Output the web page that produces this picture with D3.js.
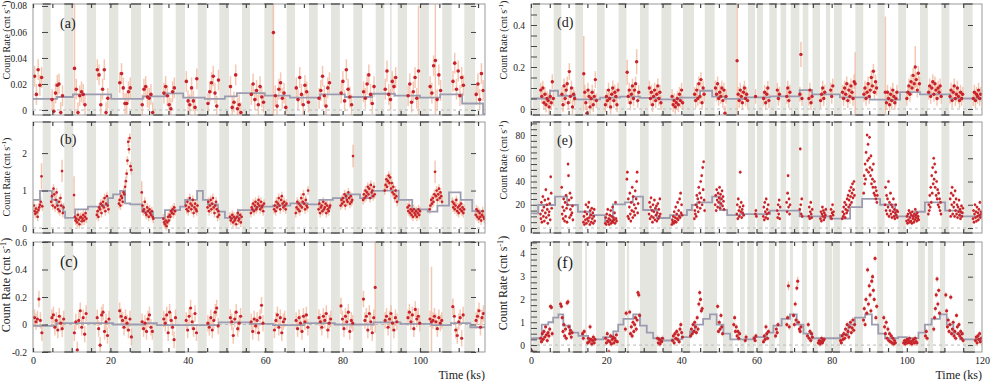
<!DOCTYPE html>
<html>
<head>
<meta charset="utf-8">
<script src="https://cdn.jsdelivr.net/npm/d3@7"></script>
<style>
  body { margin: 0; background: #fff; }
  svg { display: block; }
  text { font-family: 'Liberation Serif', 'Times New Roman', serif; fill: #222; }
</style>
</head>
<body>
<svg id="chart" width="997" height="381"></svg>
<script>
// ---- gaps in coverage (ks) ----
const leftBands = [[2.5,4.57],[8.09,10.41],[13.88,16.28],[19.64,22.04],[25.32,27.91],[31.09,33.51],[36.87,39.28],[42.56,44.88],[48.14,50.65],[54.0,56.07],[59.77,62.09],[65.56,67.7],[71.32,73.57],[77.0,79.3],[82.77,85.09],[88.55,90.78],[92.25,92.69],[94.24,96.64],[100.0,102.3],[105.76,108.19],[111.45,114.21]];
const rightBands = [[0.53,2.39],[6.04,8.06],[11.79,13.84],[17.56,19.61],[23.3,25.4],[29.0,31.3],[34.67,37.33],[40.45,43.37],[46.22,48.88],[51.97,54.63],[57.74,59.6],[60.1,61.7],[63.4,65.4],[66.4,67.9],[69.1,71.4],[72.3,73.8],[74.9,76.9],[78.5,79.6],[80.6,82.7],[86.3,88.4],[92.2,94.1],[97.7,99.8],[103.5,105.6],[109.2,111.3],[115.0,117.5]];
const fBands = [[0.45,2.4],[5.85,7.7],[11.2,13.6],[14.4,14.9],[17.3,19.7],[23.2,25.0],[25.5,26.1],[29.0,33.5],[35.1,37.5],[40.4,42.3],[45.8,49.5],[51.1,53.8],[55.6,56.9],[57.5,59.3],[60.1,61.7],[63.3,64.9],[66.0,67.9],[68.9,69.7],[72.1,73.4],[75.0,76.3],[78.2,80.1],[80.3,82.2],[86.2,88.3],[92.1,93.7],[97.1,99.0],[103.0,104.8],[105.6,107.0],[108.8,110.2],[115.0,118.1]];

// ---- light curves: [segment start (ks), rates]; [rate, error] where error differs ----
const aBin = 0.45;
const aSegs = [
  [0.2, [0.026,0.012,0.031,0.019,0.025]],
  [4.7, [0.008,-0.001,0.013,0.019,0.02,-0.002,0.011]],
  [10.5, [[0.032,0.06],0.016,-0.002,0.011,0.014,0.012,0.004]],
  [16.4, [0.031,0.027,0.004,0.016,0.031,-0.002,0.009]],
  [22.2, [0.021,0.028,0.017,0.005,0.005,0.014,0.017]],
  [28.0, [0.004,0.016,0.018,0.01,0.009,0.012,-0.002]],
  [33.6, [0.013,0.018,0.011,0.004,0.001,0.014,0.017]],
  [39.4, [0.022,0.007,0.004,0.017,0.007,0.002,0.024]],
  [45.0, [0.005,0.014,0.021,0.026,0.013,0.003,0.023]],
  [50.8, [0.018,0.002,0.006,0.027,0.001,0.004,-0.002]],
  [56.2, [0.012,0.02,0.008,0.015,0.004,0.018,0.01,0.006]],
  [61.9, [[0.0595,0.08]]],
  [62.4, [0.011,0.003,0.016,0.021,0.009,0.013,0.002]],
  [67.8, [0.017,0.008,0.025,0.012,0.004,0.019,0.014,0.006]],
  [73.7, [0.009,0.015,0.026,0.011,0.003,0.017,0.021]],
  [79.4, [0.013,0.022,0.007,0.031,0.016,0.01,0.004]],
  [85.2, [0.014,0.009,0.02,0.027,0.012,0.005,0.018]],
  [90.8, [0.016,0.03,0.012,0.008,0.022,0.018,0.025]],
  [96.7, [0.011,0.02,0.006,0.014,0.025,0.009,[0.03,0.05]]],
  [102.4, [0.018,0.013,0.034,[0.038,0.045],0.008,0.027,0.015]],
  [108.3, [0.022,0.036,0.016,0.03,0.011,0.025,0.019]],
  [114.3, [0.012,0.02,0.008,0.028,0.015]]
];
const aStepT = [0,6.2,10.3,20.2,28.4,34.1,38.8,44.4,49.6,52.7,59.9,66.4,74.2,80.6,87.6,93.5,100,105.2,110.9,116.3,116.8];
const aStepV = [0.0085,0.010,0.012,0.0085,0.0105,0.0128,0.0095,0.0085,0.0105,0.013,0.011,0.0095,0.012,0.010,0.0125,0.011,0.0095,0.012,0.005,-0.003];

const bBin = 0.2;
const bSegs = [
  [0.1, [0.6,0.45,0.38,0.52,0.42,0.3,0.48,0.55,0.62,0.7,[1.38,0.35],0.58]],
  [4.6, [0.7,0.85,0.6,1.05,0.9,0.55,0.75,0.95,0.6,0.5,0.7,0.45,0.8,0.6,[1.52,0.3],0.4,0.55]],
  [10.5, [[0.88,0.5],0.3,0.2,0.25,0.15,0.35,0.22,0.1,0.28,0.3,0.18,0.25,0.35,0.2,0.3,0.4,0.25]],
  [16.4, [0.35,0.45,0.3,0.55,0.5,0.65,0.4,0.6,0.7,0.55,0.8,0.45,0.65,0.85,0.6,0.5]],
  [22.1, [0.65,0.75,0.6,0.85,0.8,0.7,0.95,0.9,1.1,1.25,1.45,1.8,2.3,2.1,2.4,1.65,1.55]],
  [28.0, [[0.95,0.3],0.6,0.45,0.5,0.7,0.4,0.35,0.55,0.45,0.3,0.5,0.4,0.35,0.45,0.3,0.25]],
  [33.6, [0.25,0.15,0.1,0.2,0.05,0.15,0.3,0.2,0.35,0.3,0.45,0.4,0.5,0.38,0.55,0.45]],
  [39.4, [0.6,0.5,0.7,0.45,0.55,0.8,0.65,0.5,0.6,0.75,0.4,0.55,0.65,0.5,0.45,0.6]],
  [45.0, [0.55,0.7,0.45,0.6,0.75,0.5,0.65,0.8,0.55,0.4,0.6,0.7,0.5,0.3,0.45,0.35]],
  [50.8, [0.3,0.2,0.25,0.35,0.15,0.3,0.2,0.25,0.1,0.3,0.4,0.2,0.25,0.35,0.15,0.3]],
  [56.2, [0.4,0.55,0.5,0.65,0.45,0.6,0.7,0.5,0.55,0.65,0.75,0.6,0.5,0.7,0.55,0.6,0.45,0.65]],
  [62.2, [0.5,0.6,0.45,0.7,0.55,0.65,0.8,0.6,0.5,0.75,0.85,0.65,0.55,0.7,0.6,0.5,0.65]],
  [67.8, [0.4,0.55,0.7,0.5,0.65,0.45,0.6,0.8,0.55,0.7,0.9,0.65,0.5,0.75,0.6,0.55,1.0]],
  [73.7, [0.5,0.65,0.4,0.55,0.6,0.45,0.7,0.5,0.55,0.65,0.4,0.6,0.5,0.45,0.55,0.6]],
  [79.4, [0.6,0.75,0.65,0.8,0.7,0.9,0.6,0.85,0.75,0.7,0.95,0.8,0.65,0.85,0.7,0.75,[1.92,0.3]]],
  [85.2, [0.75,0.9,0.8,1.0,0.85,0.95,1.1,0.9,1.05,0.8,1.15,0.95,1.0,0.85,1.1,0.9]],
  [90.8, [1.0,1.15,1.3,1.1,1.25,1.4,1.2,1.35,1.05,1.2,0.95,1.1,0.9,0.8,1.0,0.85,0.7]],
  [96.7, [0.55,0.45,0.6,0.4,0.5,0.35,0.45,0.3,0.5,0.4,0.35,0.45,0.3,0.4,0.5,0.35,0.45]],
  [102.4, [0.5,0.6,0.75,0.65,0.8,0.7,0.9,[1.5,0.3],0.85,1.0,0.75,0.9,1.05,0.8,0.95,0.85,0.7]],
  [108.3, [0.7,0.55,0.65,0.5,0.6,0.75,0.45,0.55,0.4,0.6,0.5,0.65,0.45,0.55,0.4,0.5]],
  [114.3, [0.35,0.5,0.3,0.45,0.25,0.4,0.3,0.2,0.35,0.45,0.3,0.25]]
];
const bStepT = [0,1.8,4.9,6.2,7.8,8.3,10.9,14.2,17.3,19.4,20.7,22.5,23.8,25.1,28.2,31.0,34.1,38.0,39.3,42.4,43.9,45.2,47.8,49.6,53.0,57.5,62.0,66.5,71.0,74.0,77.5,81.0,84.5,87.5,90.5,94.5,98.0,102.0,104.5,107.5,110.5,113.5,116.3];
const bStepV = [0.75,0.99,0.75,0.6,0.44,0.27,0.5,0.57,0.61,0.8,0.9,0.99,0.66,0.63,0.44,0.27,0.48,0.57,0.75,0.99,0.75,0.63,0.44,0.27,0.48,0.57,0.6,0.66,0.63,0.75,0.8,0.9,0.8,0.99,1.0,0.75,0.5,0.44,0.6,0.95,0.75,0.45];

const cBin = 0.38;
const cSegs = [
  [0.2, [0.05,0.02,0.04,[0.185,0.06],0.03,-0.06]],
  [4.7, [0.05,0.07,-0.02,0.03,-0.04,0.06,0.01,-0.03,0.04]],
  [10.5, [-0.06,0.02,-0.185,0.03,0.1,-0.02,0.05,-0.07,0.08]],
  [16.4, [0.05,-0.03,-0.15,0.07,0.09,-0.05,0.02,-0.08,0.04]],
  [22.2, [0.1,0.06,0.03,-0.02,0.05,0.01,-0.04,0.04,-0.09]],
  [28.0, [0.02,-0.03,0.01,-0.05,0.04,0.07,-0.02,-0.05]],
  [33.6, [0.04,0.01,0.07,-0.06,0.09,0.03,-0.02,-0.11,0.05]],
  [39.4, [0.03,-0.04,0.06,0.12,0.02,-0.03,0.08,-0.06]],
  [45.0, [0.01,-0.02,0.05,-0.04,0.03,0.09,0.12,-0.01]],
  [50.8, [0.05,0.02,-0.08,0.04,0.09,-0.03,0.01,0.06]],
  [56.2, [0.02,-0.05,0.04,-0.01,0.03,-0.06,0.05,0.14,0.01]],
  [62.2, [-0.04,0.03,0.07,-0.02,0.05,-0.06,0.02,0.04]],
  [67.8, [0.03,-0.03,0.05,0.01,-0.05,0.06,0.02,0.07,-0.02]],
  [73.7, [0.05,0.02,-0.02,0.06,0.03,0.08,-0.04,0.01,0.04]],
  [79.4, [0.135,0.04,-0.03,0.06,0.02,0.09,-0.05,0.03,0.01]],
  [85.2, [0.185,0.03,0.06,-0.04,0.08,0.02,-0.06,0.05,[0.27,0.33]]],
  [90.8, [0.03,0.06,-0.02,0.04,0.08,0.01,-0.04,0.05,0.02]],
  [96.7, [0.05,0.09,0.02,0.07,-0.03,0.11,0.04,0.06,0.01]],
  [102.4, [0.04,[0.02,0.4],0.03,0.06,0.02,-0.03,0.05,0.01,0.03]],
  [108.3, [0.13,0.06,-0.04,-0.08,0.02,0.05,-0.1,0.07]],
  [114.3, [0.03,0.06,0.1,-0.02,0.05,0.08]]
];
const cStepT = [0,6,20.7,29,32,48,56,62,70,78,88,95,103,108,113,116.8];
const cStepV = [-0.01,0.01,0.0,0.01,-0.005,0.015,0.005,-0.005,0.01,0.0,0.015,0.005,-0.005,0.01,-0.02];

const dBin = 0.28;
const dSegs = [
  [2.45, [0.09,0.06,0.1,0.03,0.07,0.02,0.05,0.04,0.01,0.06,0.03,0.13,0.05]],
  [8.1, [0.07,0.02,0.11,0.05,0.09,0.12,0.03,[0.178,0.04],0.06,0.1,0.01,0.07,0.05]],
  [13.9, [[0.168,0.18],0.08,0.03,-0.02,0.09,0.06,0.01,0.05,0.08,0.02,0.06,[0.14,0.04],0.04]],
  [19.65, [0.02,0.06,0.04,0.09,0.05,0.01,0.07,0.1,0.04,0.08,0.06,0.02,0.09]],
  [25.45, [[0.175,0.06],0.06,0.09,0.03,0.07,0.11,0.05,0.09,0.12,[0.225,0.06],0.04,0.08]],
  [31.35, [0.1,0.05,0.08,0.02,0.06,0.09,0.04,0.07,0.11,0.05,0.08,0.03]],
  [37.4, [0.06,0.02,0.04,0.01,0.03,0.05,0.02,0.07,0.04,0.09,0.03]],
  [43.4, [0.07,0.04,0.09,0.05,0.12,0.06,0.14,0.03,0.1,0.07]],
  [48.95, [0.1,0.07,0.12,0.05,0.08,0.06,0.1,0.04,0.09,-0.02,0.06]],
  [54.7, [[0.23,0.3],0.07,0.04,0.09,0.06,0.03,0.08,0.1,0.05,0.07,0.04]],
  [59.6, [0.06]],
  [61.75, [0.05,0.08,0.03,0.07,0.1,0.04]],
  [65.4, [0.09,0.05,0.07]],
  [67.9, [0.06,0.1,0.04,0.08]],
  [71.4, [0.07,[0.26,0.06],0.05]],
  [73.8, [0.05,0.09,0.03,0.06]],
  [76.9, [0.04,0.07,0.1,0.05,0.08]],
  [79.6, [0.09,0.06,0.11]],
  [82.75, [0.08,0.05,0.1,0.07,0.12,0.04,0.09,0.06,0.11,0.08,0.05,0.13,[0.12,0.15]]],
  [88.45, [0.07,0.1,0.05,0.08,0.12,0.06,0.09,0.15,0.11,0.18,0.08,0.13,0.1]],
  [94.15, [[0.08,0.36],0.03,0.08,0.05,0.02,0.07,0.04,0.09,0.06,0.03,0.05,0.08]],
  [99.85, [0.05,0.08,0.11,0.07,0.13,0.1,0.16,0.12,[0.2,0.1],0.14,0.09,0.17,0.12]],
  [105.65, [0.08,0.11,0.06,0.1,0.13,0.07,0.12,0.09,0.05,0.1,0.08,0.11,0.06]],
  [111.35, [0.06,0.09,0.04,0.08,0.11,0.05,0.07,0.1,0.06,0.04,0.08,0.05,0.07]],
  [117.55, [0.05,0.08,0.04,0.07,0.06,0.09,0.05,0.07]]
];
const dStepT = [0,5.1,7.2,11.7,18.4,23.7,29.0,34.3,39.6,45.0,48.2,51.6,56.9,63.6,71.5,74.8,82.2,90.2,98.2,103.5,111.5,120];
const dStepV = [0.05,0.087,0.063,0.046,0.054,0.059,0.053,0.046,0.054,0.087,0.059,0.048,0.055,0.06,0.09,0.07,0.055,0.045,0.08,0.07,0.05];

const eBin = 0.13;
const eSegs = [
  [2.45, [12,8,22,5,15,27,10,18,6,24,13,33,9,20,16,4,25,11,14,21,7,44,30,17]],
  [8.1, [35,12,18,8,25,15,6,22,10,28,17,5,20,55,45,24,9,30,16,11,26,13,19,7]],
  [13.9, [5,10,3,14,7,20,4,12,8,18,6,22,9,3,15,11,5,17,8,13,4,10,16,6]],
  [19.7, [4,9,3,12,6,16,5,8,3,11,7,15,4,10,6,18,5,9,7,13,4,22,8,6]],
  [25.45, [42,48,10,25,8,18,30,12,6,22,15,35,9,27,14,20,11,32,17,25,40,48,13,21]],
  [31.35, [12,22,8,18,26,10,15,5,20,9,14,24,7,17,11,19,6,13,21,8,16,10,25,12]],
  [37.4, [3,7,5,10,4,14,6,9,18,5,12,8,22,7,15,10,25,9,30,13,20,11]],
  [43.4, [8,15,12,20,10,28,18,25,14,35,22,30,17,40,26,45,20,52,33,57,24,15]],
  [48.95, [20,28,15,33,24,18,30,22,26,35,17,29,21,25,32,19,27,23,16]],
  [54.7, [12,20,8,25,15,10,18,48,14,22,9,16,13,19,11]],
  [59.65, [12,15,10]],
  [61.75, [10,18,7,22,14,9,25,12,16,8,20,13]],
  [65.45, [15,9,20,12,24,8,18]],
  [67.95, [22,14,30,45,18,25,12,20]],
  [71.45, [16,68,20,12,25,10]],
  [73.85, [10,18,8,14,22,12,9,16]],
  [76.95, [8,14,6,12,18,10,15,7,13,9,11,16]],
  [79.65, [10,16,8,13,20,11,14]],
  [82.75, [8,14,10,18,12,22,9,16,20,13,25,15,28,18,24,32,20,27,35,22,30,38,26,33,40,28]],
  [88.45, [30,45,38,55,42,65,50,80,58,72,48,60,78,52,45,62,38,50,42,35,55,30,40,28,35,25,32,22,28]],
  [94.15, [20,35,15,28,12,25,18,40,10,22,15,30,12,20,9,18,14,25,10,16,8,13,20,11,15,9,14]],
  [99.85, [6,10,4,12,7,15,5,9,13,6,11,4,14,8,10,5,12,7,16,9,11,6,13,8,10,7]],
  [105.65, [12,20,15,28,18,35,22,45,30,52,38,60,42,55,35,48,28,40,25,33,20,30,18,25,15,22,12]],
  [111.35, [15,25,10,30,20,35,12,28,18,22,10,32,15,25,12,20,9,18,14,24,11,16,8,14,19,10,13,17]],
  [117.55, [8,15,5,12,20,9,14,6,18,10,13,7,16,11,22,9,14,12]]
];
const eStepT = [0,1.9,6.4,9.6,12.5,15.7,19.7,21.8,25.0,27.1,29.8,33.5,37.0,41.5,42.8,44.2,48.2,50.3,52.2,55.6,63.6,71.5,79.5,84.9,88.1,92.9,96.9,102.2,104.8,110.2,114.2,120];
const eStepV = [12.6,19.8,27,19.8,14,11,5.9,20.4,22,27,15.5,8.6,11,15.5,19.8,22,27,15.5,11,12,15,10,8,18,25,20,10,14,22,15,10];

const fBin = 0.22;
const fSegs = [
  [0.05, [[-0.25,0.1]]],
  [2.45, [0.3,0.15,0.5,0.25,0.6,0.35,0.8,0.45,0.2,0.55,0.4,0.7,1.7,1.65,0.5]],
  [7.75, [1.8,1.7,1.2,0.6,0.9,0.4,0.7,0.3,1.85,1.9,0.8,0.5,0.65,0.35,0.55]],
  [13.6, [0.5,0.3,0.6]],
  [14.95, [0.1,0.3,0.15,0.8,0.25,0.05,0.2,0.35,0.1,0.25]],
  [19.75, [0.3,0.1,0.5,0.2,-0.3,0.15,0.4,0.05,0.25,0.35,0.1,0.3,0.2,0.45,0.15]],
  [25.0, [0.7,1.4]],
  [26.15, [1.45,0.5,0.8,0.4,1.0,0.6,0.9,1.2,0.7,1.1,2.3,2.2,1.3]],
  [33.55, [0.3,0.1,0.25,0.05,0.2,0.15,0.3]],
  [37.55, [0.2,0.4,0.1,0.5,0.3,0.6,0.25,0.45,0.15,0.7,0.9,0.55,0.35]],
  [42.35, [0.4,0.7,0.5,0.9,0.6,1.0,0.8,0.55,1.2,0.7,1.8,2.3,2.0,1.5,1.6]],
  [49.55, [1.7,0.6,1.0,0.7,1.3,0.8,0.5]],
  [53.85, [0.9,1.2,0.6,0.8,0.4,0.6,0.3,0.5]],
  [56.9, [0.2,0.35]],
  [59.3, [0.3,0.2,0.4]],
  [61.75, [0.15,0.4,0.25,0.8,0.5,0.3,0.6]],
  [64.95, [0.4,0.7,0.55,0.9]],
  [67.95, [0.9,1.2,[2.6,0.2],0.8]],
  [69.75, [1.3,0.9,1.8,1.1,2.5,[2.8,0.2],1.0,0.7,0.6,0.8]],
  [73.45, [0.4,0.9,0.3,0.6,0.2,0.5,0.35]],
  [76.35, [0.1,0.2,0.05,0.15,0.3,0.1,0.2,0.25]],
  [82.25, [0.2,0.1,0.4,0.25,0.5,0.3,0.7,0.45,0.9,0.6,0.35,0.8,1.0,0.55,0.75,1.1,0.65,0.9]],
  [88.35, [1.1,1.6,0.9,2.0,1.4,3.3,1.8,2.6,2.2,1.5,2.8,3.0,2.4,2.0,3.8,1.2,1.7]],
  [93.75, [1.2,0.8,0.5,1.0,0.3,0.7,0.2,0.5,0.15,0.4,0.1,0.3,0.05,0.2,0.1]],
  [99.05, [0.1,0.2,0.05,0.15,0.25,0.1,0.2,0.3,0.1,0.15,0.05,0.2,0.25,0.1,0.3,0.15,0.1]],
  [104.85, [0.4,0.6,0.3]],
  [107.05, [0.7,1.2,1.6,2.2,2.9,1.8,2.4,1.4]],
  [110.25, [2.2,1.5,0.8,1.1,0.6,0.9,2.1,0.5,0.7,1.0,0.4,0.6,0.3,1.3,0.8,0.5,0.9,0.4,0.6,0.3,0.5,0.2]],
  [118.15, [0.2,0.35,0.1,0.4,0.25,0.5,0.15,0.3]]
];
const fStepT = [0,2.85,4.6,5.9,7.3,8.6,10.4,12.6,15.2,19.2,21.9,23.2,24.6,27.2,29.0,30.8,32.5,35.2,37.4,40.1,42.3,43.6,45.8,47.6,49.4,51.2,53.0,55.6,59.2,62.7,64.5,66.7,68.9,70.7,72.5,74.7,78.7,82.2,84.4,86.2,88.9,90.7,92.4,94.2,97.7,100.0,103.1,104.8,106.6,108.8,110.6,112.4,114.2,120];
const fStepV = [0.3,0.9,1.0,1.2,1.35,0.85,0.55,0.4,0.25,0.35,0.6,0.9,1.15,1.35,0.85,0.55,0.3,0.2,0.25,0.35,0.6,0.9,1.15,1.35,0.9,0.5,0.25,0.25,0.35,0.55,0.85,1.15,1.35,0.9,0.5,0.3,0.3,0.45,0.9,1.2,1.35,0.9,0.5,0.3,0.35,0.3,0.55,0.9,1.15,1.35,0.9,0.5,0.25];

// ---- axes ----
const leftXTicks = [0,20,40,60,80,100];
const rightXTicks = [0,20,40,60,80,100,120];
const aTicks = [0,0.02,0.04,0.06,0.08], aLabels = ['0','0.02','0.04','0.06','0.08'];
const bTicks = [0,1,2], bLabels = ['0','1','2'];
const cTicks = [-0.2,0,0.2,0.4,0.6], cLabels = ['-0.2','0','0.2','0.4','0.6'];
const dTicks = [0,0.2,0.4], dLabels = ['0','0.2','0.4'];
const eTicks = [0,20,40,60,80], eLabels = ['0','20','40','60','80'];
const fTicks = [0,1,2,3,4], fLabels = ['0','1','2','3','4'];

const svg = d3.select('#chart');
const L = {x0: 33, x1: 485, max: 116.8, inset: 9};
const R = {x0: 531, x1: 982, max: 120, inset: 0};
const rows = [[4,115],[122,233],[242,352]];

const panels = [
  {id:'a', side:L, row:0, bands:leftBands, segs:aSegs, bin:aBin, err:0.008, r:1.8, stepT:aStepT, stepV:aStepV, y:[-0.00385,0.0815], ticks:aTicks, labels:aLabels, minor:null, ylab:40, fs:10, pfs:14, pby:28},
  {id:'b', side:L, row:1, bands:leftBands, segs:bSegs, bin:bBin, err:0.12, r:1.35, stepT:bStepT, stepV:bStepV, y:[-0.133,2.83], ticks:bTicks, labels:bLabels, minor:null, ylab:177, fs:10, pfs:14, pby:144},
  {id:'c', side:L, row:2, bands:leftBands, segs:cSegs, bin:cBin, err:0.06, r:1.6, stepT:cStepT, stepV:cStepV, y:[-0.2,0.6], ticks:cTicks, labels:cLabels, minor:null, ylab:285, fs:12, pfs:16, pby:267},
  {id:'d', side:R, row:0, bands:rightBands, segs:dSegs, bin:dBin, err:0.035, r:1.7, stepT:dStepT, stepV:dStepV, y:[-0.0286,0.5], ticks:dTicks, labels:dLabels, minor:0.05, ylab:40, fs:10, pfs:14, pby:27},
  {id:'e', side:R, row:1, bands:rightBands, segs:eSegs, bin:eBin, err:1.6, r:1.35, stepT:eStepT, stepV:eStepV, y:[-4.3,91.2], ticks:eTicks, labels:eLabels, minor:5, ylab:160, fs:10, pfs:14, pby:145},
  {id:'f', side:R, row:2, bands:fBands, segs:fSegs, bin:fBin, err:0.12, r:1.6, stepT:fStepT, stepV:fStepV, y:[-0.304,4.52], ticks:fTicks, labels:fLabels, minor:0.25, ylab:283, fs:12, pfs:16, pby:268}
];

panels.forEach(p => {
  const s = p.side;
  const y0 = rows[p.row][0], y1 = rows[p.row][1];
  const x = d3.scaleLinear().domain([0, s.max]).range([s.x0, s.x1]);
  const y = d3.scaleLinear().domain(p.y).range([y1, y0]);
  const g = svg.append('g');

  svg.append('clipPath').attr('id', 'clip-' + p.id)
    .append('rect').attr('x', s.x0).attr('y', y0).attr('width', s.x1 - s.x0).attr('height', y1 - y0);
  const body = g.append('g').attr('clip-path', `url(#clip-${p.id})`);

  // data gaps
  body.selectAll('rect.band').data(p.bands).join('rect')
    .attr('x', d => x(d[0])).attr('width', d => x(d[1]) - x(d[0]))
    .attr('y', y0).attr('height', y1 - y0)
    .attr('fill', '#e5e5e0');

  // zero level
  body.append('line')
    .attr('x1', s.x0).attr('x2', s.x1).attr('y1', y(0)).attr('y2', y(0))
    .attr('stroke', '#bbb').attr('stroke-width', 1).attr('stroke-dasharray', '3,3');

  const pts = [];
  p.segs.forEach(([t0, vals]) => vals.forEach((v, i) => {
    const val = Array.isArray(v) ? v[0] : v;
    const e = Array.isArray(v) ? v[1] : p.err;
    pts.push({t: t0 + (i + 0.5) * p.bin, v: val, e: e});
  }));

  body.selectAll('line.err').data(pts).join('line')
    .attr('x1', d => x(d.t)).attr('x2', d => x(d.t))
    .attr('y1', d => y(d.v - d.e)).attr('y2', d => y(d.v + d.e))
    .attr('stroke', '#f0b193').attr('stroke-opacity', 0.7).attr('stroke-width', 1.5);

  const stepPts = p.stepT.map((t, i) => [t, p.stepV[Math.min(i, p.stepV.length - 1)]]);
  body.append('path')
    .attr('d', d3.line().x(d => x(d[0])).y(d => y(d[1])).curve(d3.curveStepAfter)(stepPts))
    .attr('fill', 'none').attr('stroke', '#9c9cb0').attr('stroke-width', 1.8);

  body.selectAll('circle').data(pts).join('circle')
    .attr('cx', d => x(d.t)).attr('cy', d => y(d.v)).attr('r', p.r)
    .attr('fill', '#c8232c');

  // dark caps of the gaps on top and bottom edge
  [y0, y1].forEach(yy => {
    g.selectAll(null).data(p.bands).join('line')
      .attr('x1', d => x(d[0])).attr('x2', d => x(d[1]))
      .attr('y1', yy).attr('y2', yy)
      .attr('stroke', '#555').attr('stroke-width', 2);
  });

  // frame
  g.append('rect').attr('x', s.x0).attr('y', y0).attr('width', s.x1 - s.x0).attr('height', y1 - y0)
    .attr('fill', 'none').attr('stroke', '#999').attr('stroke-width', 1);

  // time ticks, inward
  const xt = d3.range(0, s.max, 5);
  const topAx = g.append('g').attr('transform', `translate(0,${y0})`)
    .call(d3.axisBottom(x).tickValues(xt).tickSize(4).tickFormat(''));
  const botAx = g.append('g').attr('transform', `translate(0,${y1})`)
    .call(d3.axisTop(x).tickValues(xt).tickSize(4).tickFormat(''));
  [topAx, botAx].forEach(a => {
    a.select('.domain').remove();
    a.selectAll('line').attr('stroke', '#444').attr('stroke-width', 1.2);
  });

  // rate ticks
  const yt = p.minor ? d3.range(Math.ceil(p.y[0] / p.minor) * p.minor, p.y[1], p.minor).map(v => +v.toFixed(4)) : p.ticks;
  const lt = g.append('g').attr('transform', `translate(${s.x0 + s.inset},0)`)
    .call(d3.axisRight(y).tickValues(yt).tickSize(6).tickFormat(''));
  const rt = g.append('g').attr('transform', `translate(${s.x1 - 9},0)`)
    .call(d3.axisLeft(y).tickValues(p.ticks).tickSize(5).tickFormat(''));
  [lt, rt].forEach(a => {
    a.select('.domain').remove();
    a.selectAll('line').attr('stroke', '#444').attr('stroke-width', 1);
  });

  // tick labels
  const yl = g.append('g').attr('transform', `translate(${s.x0},0)`)
    .call(d3.axisLeft(y).tickValues(p.ticks).tickSize(0).tickPadding(6).tickFormat((d, i) => p.labels[i]));
  yl.select('.domain').remove();
  yl.selectAll('text').attr('font-size', 9.5).attr('font-family', null);

  // axis title
  const tx = s === L ? 10 : 507;
  const t = g.append('text')
    .attr('transform', `translate(${tx},${p.ylab}) rotate(-90)`)
    .attr('text-anchor', 'middle').attr('font-size', p.fs);
  t.append('tspan').text('Count Rate (cnt s');
  t.append('tspan').attr('baseline-shift', 'super').attr('font-size', p.fs * 0.7).text('-1');
  t.append('tspan').text(')');

  // panel letter
  g.append('text').attr('x', s === L ? 60 : 557).attr('y', p.pby)
    .attr('font-size', p.pfs).text(`(${p.id})`);

  // bottom row: time labels
  if (p.row === 2) {
    const xl = g.append('g').attr('transform', `translate(0,${y1})`)
      .call(d3.axisBottom(x).tickValues(s === L ? leftXTicks : rightXTicks).tickSize(0).tickPadding(5));
    xl.select('.domain').remove();
    xl.selectAll('text').attr('font-size', 10).attr('font-family', null);
    g.append('text').attr('x', s.x1).attr('y', 379).attr('text-anchor', 'end')
      .attr('font-size', 12).text('Time (ks)');
  }
});
</script>
</body>
</html>
